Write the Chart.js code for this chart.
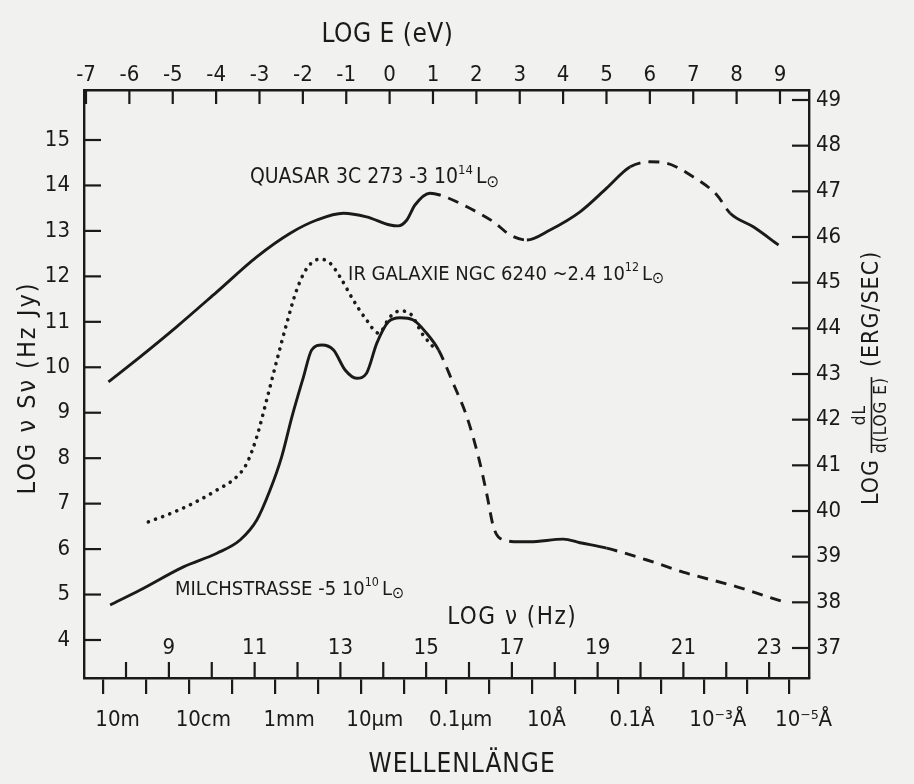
<!DOCTYPE html>
<html>
<head>
<meta charset="utf-8">
<script src="https://cdn.jsdelivr.net/npm/chart.js@4.4.1/dist/chart.umd.min.js"></script>
<style>
html,body{margin:0;padding:0;background:#f1f1ef;}
canvas{display:block;}
</style>
</head>
<body>
<canvas id="c" width="914" height="784"></canvas>
<script>
// ---- Data: x = log ν (Hz), y = log νSν (Hz Jy) ----
const quasarNu  = [7.59, 8.33, 9.18, 10.12, 11.05, 11.83, 12.45, 13.07, 13.61, 14.16, 14.35, 14.55, 14.74, 15.09, 15.32, 15.95, 16.57, 16.96, 17.35, 17.89, 18.59, 19.21, 19.76, 20.22, 20.61, 21.16, 21.78, 22.09, 22.63, 23.22];
const quasarLum = [9.68, 10.23, 10.89, 11.66, 12.43, 12.95, 13.24, 13.39, 13.31, 13.13, 13.11, 13.24, 13.57, 13.83, 13.79, 13.53, 13.20, 12.91, 12.80, 13.02, 13.42, 13.94, 14.41, 14.52, 14.49, 14.23, 13.79, 13.39, 13.09, 12.69];
const quasarDashed = [[15.09, 17.35], [19.76, 22.09]];

const irNu  = [8.52, 8.95, 9.57, 10.12, 10.58, 10.82, 11.05, 11.28, 11.52, 11.75, 11.98, 12.22, 12.53, 12.76, 12.99, 13.30, 13.61, 13.89, 14.16, 14.39, 14.66, 14.90, 15.16];
const irLum = [6.60, 6.75, 7.01, 7.30, 7.59, 7.89, 8.47, 9.28, 10.16, 10.97, 11.70, 12.18, 12.38, 12.29, 11.99, 11.48, 11.04, 10.75, 11.11, 11.24, 11.15, 10.75, 10.45];

const mwNu  = [7.63, 8.33, 9.34, 10.12, 10.66, 11.05, 11.36, 11.63, 11.87, 12.14, 12.33, 12.57, 12.84, 13.11, 13.38, 13.61, 13.85, 14.12, 14.39, 14.70, 15.01, 15.29, 15.63, 15.95, 16.22, 16.41, 16.57, 16.72, 17.19, 17.42, 18.20, 18.59, 19.21, 20.15, 21.08, 22.25, 23.33];
const mwLum = [4.77, 5.10, 5.61, 5.91, 6.20, 6.64, 7.30, 8.03, 8.91, 9.79, 10.38, 10.49, 10.38, 9.94, 9.76, 9.87, 10.53, 11.00, 11.09, 11.04, 10.75, 10.38, 9.65, 8.91, 8.03, 7.23, 6.49, 6.24, 6.16, 6.16, 6.22, 6.14, 6.02, 5.76, 5.47, 5.17, 4.84];
const mwDashed = [[15.29, 17.3], [19.21, 23.4]];

// ---- Ticks and tick labels ----
const nuTicks  = [8, 9, 10, 11, 12, 13, 14, 15, 16, 17, 18, 19, 20, 21, 22, 23];
const nuLabels = [9, 11, 13, 15, 17, 19, 21, 23];
const eTicks   = [-7, -6, -5, -4, -3, -2, -1, 0, 1, 2, 3, 4, 5, 6, 7, 8, 9];
const leftTicks  = [4, 5, 6, 7, 8, 9, 10, 11, 12, 13, 14, 15];
const rightTicks = [37, 38, 39, 40, 41, 42, 43, 44, 45, 46, 47, 48, 49];
// wavelength decades 10 m ... 10^-5 Å expressed in log ν
const lambdaTickNu = [7.477, 8.477, 9.477, 10.477, 11.477, 12.477, 13.477, 14.477, 15.477, 16.477, 17.477, 18.477, 19.477, 20.477, 21.477, 22.477, 23.477];
const lambdaLabels = ['10m', '', '10cm', '', '1mm', '', '10µm', '', '0.1µm', '', '10Å', '', '0.1Å', '', '10⁻³Å', '', '10⁻⁵Å'];

// ---- Text annotations ----
const curveLabels = [
  {nu: 10.89, lum: 14.165, size: 21, parts: [['QUASAR 3C 273 -3 10'], ['14', 'sup'], ['L'], ['⊙', 'sub']]},
  {nu: 13.18, lum: 12.03, size: 20, parts: [['IR GALAXIE NGC 6240 ~2.4 10'], ['12', 'sup'], ['L'], ['⊙', 'sub']]},
  {nu: 9.14, lum: 5.10, size: 20, parts: [['MILCHSTRASSE -5 10'], ['10', 'sup'], ['L'], ['⊙', 'sub']]}
];

const FONT = "'DejaVu Sans Condensed','Liberation Sans Narrow','DejaVu Sans',sans-serif";
const INK = '#1a1a1a';
const PAPER = '#f1f1ef';
const DASH = [11, 8];

function inRanges(v, ranges) { return ranges.some(r => v >= r[0] && v <= r[1]); }
function pts(xs, ys) { return xs.map((v, i) => ({x: v, y: ys[i]})); }

function rich(ctx, parts, x, y, size) {
  let cx = x;
  parts.forEach(p => {
    const kind = p[1];
    const s = kind === 'sup' ? size * 0.62 : kind === 'sub' ? size * 0.8 : size;
    const dy = kind === 'sup' ? -size * 0.36 : kind === 'sub' ? size * 0.2 : 0;
    ctx.font = `${s}px ${FONT}`;
    ctx.fillText(p[0], cx, y + dy);
    cx += ctx.measureText(p[0]).width + (kind === 'sup' ? 3 : 0);
  });
}

const paperPlugin = {
  id: 'paper',
  beforeDraw(chart) {
    const c = chart.ctx;
    c.save(); c.fillStyle = PAPER; c.fillRect(0, 0, chart.width, chart.height); c.restore();
  }
};

const overlayPlugin = {
  id: 'overlay',
  afterDraw(chart) {
    const {ctx, chartArea: a, scales} = chart;
    const {x, x2, y, y2} = scales;
    ctx.save();
    ctx.strokeStyle = INK; ctx.fillStyle = INK; ctx.lineWidth = 2.2;
    const seg = (ax, ay, bx, by) => { ctx.beginPath(); ctx.moveTo(ax, ay); ctx.lineTo(bx, by); ctx.stroke(); };
    // inward tick marks
    leftTicks.forEach(v => { const p = y.getPixelForValue(v); seg(a.left, p, a.left + 17, p); });
    rightTicks.forEach(v => { const p = y2.getPixelForValue(v); seg(a.right - 17, p, a.right, p); });
    eTicks.forEach(v => { const p = x2.getPixelForValue(v); seg(p, a.top, p, a.top + 14); });
    nuTicks.forEach(v => { const p = x.getPixelForValue(v); seg(p, a.bottom, p, a.bottom - 16); });

    // inner log ν labels
    ctx.textBaseline = 'middle'; ctx.textAlign = 'center';
    ctx.font = `22px ${FONT}`;
    nuLabels.forEach(v => ctx.fillText(String(v), x.getPixelForValue(v), a.bottom - 30));

    // axis titles
    ctx.font = `26px ${FONT}`;
    ctx.letterSpacing = '0.5px';
    ctx.fillText('LOG E (eV)', x2.getPixelForValue(-0.05), a.top - 55);
    ctx.letterSpacing = '1px';
    ctx.fillText('WELLENLÄNGE', x.getPixelForValue(15.84), a.bottom + 87);
    ctx.textAlign = 'left';
    ctx.font = `24px ${FONT}`;
    ctx.letterSpacing = '1.5px';
    ctx.fillText('LOG ν (Hz)', x.getPixelForValue(15.49), y.getPixelForValue(4.48));

    // left title (rotated)
    ctx.save();
    ctx.translate(a.left - 56, (a.top + a.bottom) / 2 + 4);
    ctx.rotate(-Math.PI / 2);
    ctx.textAlign = 'center';
    ctx.font = `25px ${FONT}`;
    ctx.letterSpacing = '2px';
    ctx.fillText('LOG ν Sν (Hz Jy)', 0, 0);
    ctx.restore();

    // right title (rotated, with fraction)
    ctx.save();
    ctx.translate(a.right + 63, y2.getPixelForValue(40.13));
    ctx.rotate(-Math.PI / 2);
    ctx.textAlign = 'left';
    ctx.letterSpacing = '1px';
    ctx.font = `23px ${FONT}`;
    ctx.fillText('LOG', 0, 0);
    const fx = ctx.measureText('LOG').width + 6;
    ctx.font = `17px ${FONT}`;
    const fw = ctx.measureText('d(LOG E)').width;
    ctx.textAlign = 'center';
    ctx.fillText('dL', fx + fw / 2, -11);
    ctx.fillText('d(LOG E)', fx + fw / 2, 10);
    ctx.lineWidth = 1.6;
    seg(fx, -0.5, fx + fw, -0.5);
    ctx.textAlign = 'left';
    ctx.font = `23px ${FONT}`;
    ctx.fillText('(ERG/SEC)', fx + fw + 10, 0);
    ctx.restore();

    // curve labels
    ctx.letterSpacing = '0px';
    ctx.textAlign = 'left'; ctx.textBaseline = 'middle';
    curveLabels.forEach(l => rich(ctx, l.parts, x.getPixelForValue(l.nu), y.getPixelForValue(l.lum), l.size));
    ctx.restore();
  }
};

const tickFont = size => ({family: FONT, size: size});

new Chart(document.getElementById('c'), {
  type: 'line',
  data: {
    datasets: [
      {
        label: 'Quasar 3C 273', data: pts(quasarNu, quasarLum),
        borderColor: INK, borderWidth: 2.9, pointRadius: 0, fill: false,
        cubicInterpolationMode: 'monotone', borderJoinStyle: 'round',
        segment: { borderDash: c => inRanges((c.p0.parsed.x + c.p1.parsed.x) / 2, quasarDashed) ? DASH : undefined }
      },
      {
        label: 'IR Galaxie NGC 6240', data: pts(irNu, irLum),
        borderColor: INK, borderWidth: 3.6, pointRadius: 0, fill: false,
        cubicInterpolationMode: 'monotone', borderDash: [0.1, 7.5], borderCapStyle: 'round'
      },
      {
        label: 'Milchstrasse', data: pts(mwNu, mwLum),
        borderColor: INK, borderWidth: 2.9, pointRadius: 0, fill: false,
        cubicInterpolationMode: 'monotone', borderJoinStyle: 'round',
        segment: { borderDash: c => inRanges((c.p0.parsed.x + c.p1.parsed.x) / 2, mwDashed) ? DASH : undefined }
      }
    ]
  },
  options: {
    responsive: false,
    devicePixelRatio: 1,
    animation: false,
    layout: {padding: 0},
    plugins: {legend: {display: false}, tooltip: {enabled: false}},
    scales: {
      x: {
        type: 'linear', position: 'bottom', min: 7.02, max: 23.93,
        afterBuildTicks: s => { s.ticks = lambdaTickNu.map(v => ({value: v})); },
        afterFit: s => { s.height = 106; },
        grid: {display: true, drawOnChartArea: false, drawTicks: true, tickLength: 16, color: INK, lineWidth: 2.2},
        border: {display: true, color: INK, width: 2.4},
        ticks: {autoSkip: false, maxRotation: 0, minRotation: 0, padding: 13, labelOffset: 14, color: INK, font: tickFont(22),
                callback: (v, i) => lambdaLabels[i]}
      },
      x2: {
        type: 'linear', position: 'top', min: -7.046, max: 9.669,
        afterBuildTicks: s => { s.ticks = eTicks.map(v => ({value: v})); },
        afterFit: s => { s.height = 90; },
        grid: {display: false, drawTicks: false},
        border: {display: true, color: INK, width: 2.4},
        ticks: {autoSkip: false, maxRotation: 0, minRotation: 0, padding: 2, color: INK, font: tickFont(22)}
      },
      y: {
        type: 'linear', position: 'left', min: 3.164, max: 16.1,
        afterBuildTicks: s => { s.ticks = leftTicks.map(v => ({value: v})); },
        afterFit: s => { s.width = 84; },
        grid: {display: false, drawTicks: false},
        border: {display: true, color: INK, width: 2.4},
        ticks: {autoSkip: false, padding: 14, color: INK, font: tickFont(22)}
      },
      y2: {
        type: 'linear', position: 'right', min: 36.343, max: 49.219,
        afterBuildTicks: s => { s.ticks = rightTicks.map(v => ({value: v})); },
        afterFit: s => { s.width = 105; },
        grid: {display: false, drawTicks: false},
        border: {display: true, color: INK, width: 2.4},
        ticks: {autoSkip: false, padding: 7, color: INK, font: tickFont(22)}
      }
    }
  },
  plugins: [paperPlugin, overlayPlugin]
});
</script>
</body>
</html>
